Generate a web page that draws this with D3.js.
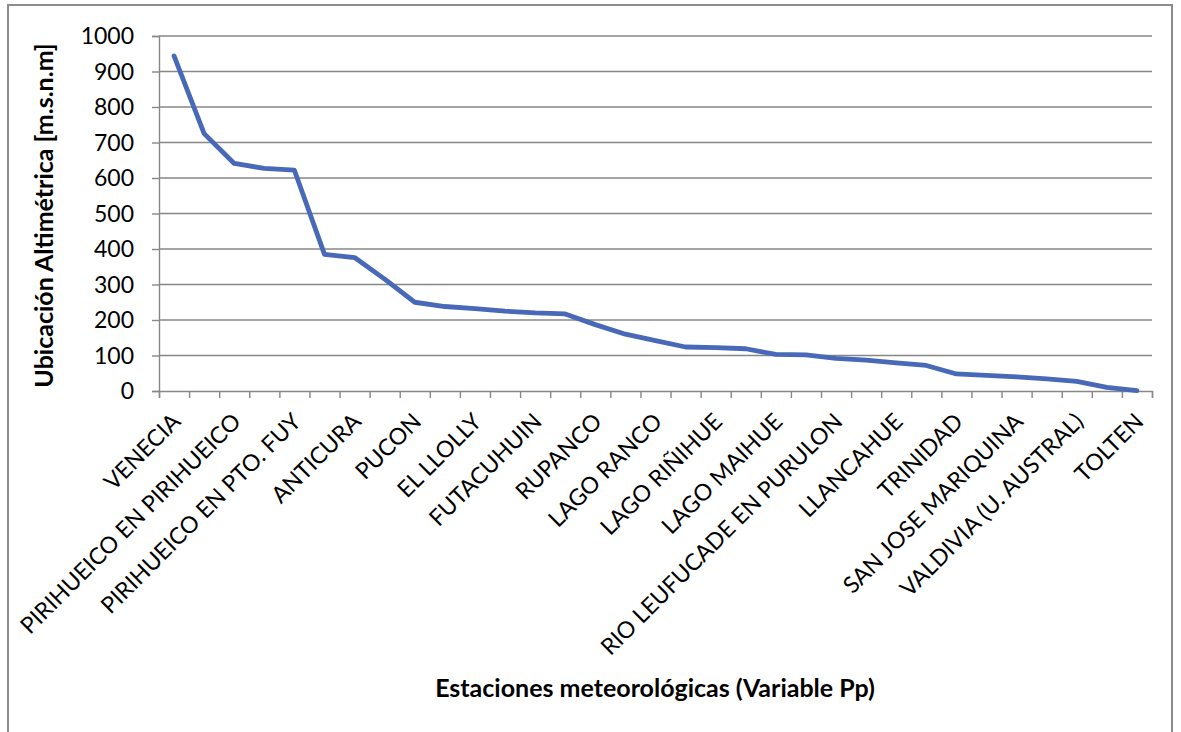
<!DOCTYPE html>
<html>
<head>
<meta charset="utf-8">
<script src="https://cdn.jsdelivr.net/npm/d3@7"></script>
<style>
  html, body { margin: 0; padding: 0; background: #fff; }
  svg { display: block; font-family: Lato, "Open Sans", sans-serif; }
</style>
</head>
<body>
<svg id="chart" width="1181" height="732"></svg>
<script>
// ---- data ----
const stationIndex = d3.range(33);
const stationLabels = [
  "VENECIA", "", "PIRIHUEICO EN PIRIHUEICO", "", "PIRIHUEICO EN PTO. FUY", "",
  "ANTICURA", "", "PUCON", "", "EL LLOLLY", "", "FUTACUHUIN", "", "RUPANCO", "",
  "LAGO RANCO", "", "LAGO RIÑIHUE", "", "LAGO MAIHUE", "", "RIO LEUFUCADE EN PURULON", "",
  "LLANCAHUE", "", "TRINIDAD", "", "SAN JOSE MARIQUINA", "", "VALDIVIA (U. AUSTRAL)", "", "TOLTEN"
];
const altitudes = [944, 725, 641, 627, 622, 385, 376, 315, 250, 238, 232, 225, 220, 217, 187,
  160, 142, 124, 122, 119, 103, 102, 92, 87, 79, 72, 48, 44, 40, 34, 27, 10, 1];
const yTicks = [0, 100, 200, 300, 400, 500, 600, 700, 800, 900, 1000];
const yTitle = "Ubicación Altimétrica [m.s.n.m]";
const xTitle = "Estaciones meteorológicas (Variable Pp)";

// ---- layout ----
const svg = d3.select("#chart");
const mLeft = 159, mRight = 1152, mTop = 36, mBottom = 391;
const gridColor = "#878787";

// chart frame
svg.append("rect").attr("x", 8).attr("y", 5).attr("width", 1164).attr("height", 740)
  .attr("fill", "#fff").attr("stroke", "#8c8c8c").attr("stroke-width", 2);

const x = d3.scaleBand().domain(stationIndex).range([mLeft, mRight]).padding(0);
const xEdges = d3.scaleLinear().domain([0, stationIndex.length]).range([mLeft, mRight]);
const y = d3.scaleLinear().domain([0, 1000]).range([mBottom, mTop]);

// gridlines
svg.append("g").selectAll("line").data(yTicks.filter(d => d > 0)).join("line")
  .attr("x1", mLeft).attr("x2", mRight)
  .attr("y1", d => y(d)).attr("y2", d => y(d))
  .attr("stroke", gridColor).attr("stroke-width", 1.4);

// y axis
const yAxis = svg.append("g").attr("transform", `translate(${mLeft},0)`)
  .call(d3.axisLeft(y).tickValues(yTicks).tickSize(7).tickPadding(18).tickFormat(d3.format("d")));
yAxis.select(".domain").attr("stroke", gridColor).attr("stroke-width", 1.4);
yAxis.selectAll(".tick line").attr("stroke", gridColor).attr("stroke-width", 1.4);
yAxis.selectAll("text").attr("font-size", 23).attr("fill", "#000")
  .attr("font-family", "Lato, sans-serif").attr("dy", "0.34em");

// x axis (tick marks at category edges)
const xAxis = svg.append("g").attr("transform", `translate(0,${mBottom})`)
  .call(d3.axisBottom(xEdges).tickValues(d3.range(stationIndex.length + 1)).tickSize(7).tickFormat(""));
xAxis.select(".domain").attr("stroke", gridColor).attr("stroke-width", 1.4);
xAxis.selectAll(".tick line").attr("stroke", gridColor).attr("stroke-width", 1.4);

// x labels
svg.append("g").selectAll("text").data(stationIndex.filter(i => stationLabels[i] !== "")).join("text")
  .attr("transform", i => `translate(${x(i) + x.bandwidth() / 2 + 8},${mBottom + 32}) rotate(-45)`)
  .attr("text-anchor", "end")
  .attr("font-size", 23)
  .attr("fill", "#000")
  .text(i => stationLabels[i]);

// line
const line = d3.line()
  .x((d, i) => x(stationIndex[i]) + x.bandwidth() / 2)
  .y(d => y(d));
svg.append("path").datum(altitudes)
  .attr("d", line)
  .attr("fill", "none")
  .attr("stroke", "#4869b8")
  .attr("stroke-width", 4.8)
  .attr("stroke-linejoin", "round")
  .attr("stroke-linecap", "round");

// axis titles
svg.append("text")
  .attr("transform", `translate(53,${(mTop + mBottom) / 2 + 2}) rotate(-90)`)
  .attr("text-anchor", "middle")
  .attr("font-size", 25).attr("font-weight", "bold").attr("fill", "#000")
  .text(yTitle);

svg.append("text")
  .attr("x", 655).attr("y", 697)
  .attr("text-anchor", "middle")
  .attr("font-size", 25).attr("font-weight", "bold").attr("fill", "#000")
  .text(xTitle);
</script>
</body>
</html>
